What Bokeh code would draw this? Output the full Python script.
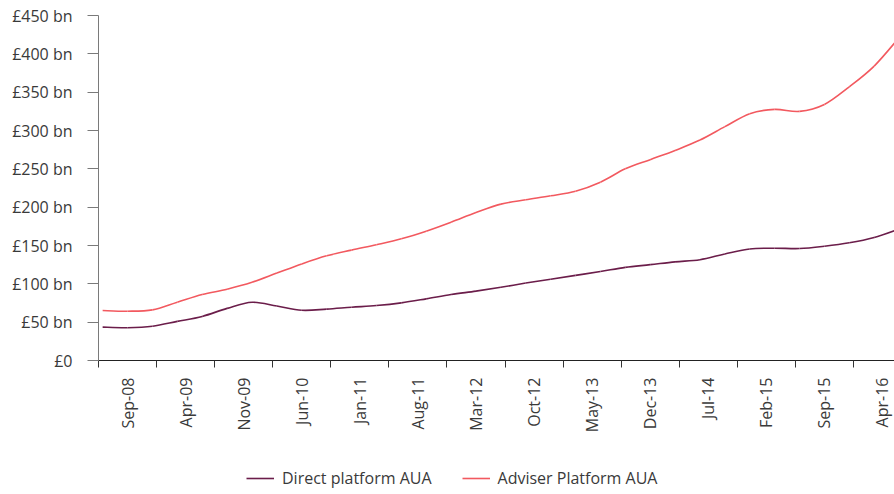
import math
import pandas as pd
from bokeh.plotting import figure
from bokeh.layouts import column
from bokeh.models import FixedTicker, Range1d, Legend, LegendItem, ColumnDataSource
from bokeh.embed import file_html
from bokeh.resources import INLINE

# ---- data (GBP bn), quarterly readings ----
quarters = ["Sep-08", "Dec-08", "Mar-09", "Jun-09", "Sep-09", "Dec-09", "Mar-10", "Jun-10",
            "Sep-10", "Dec-10", "Mar-11", "Jun-11", "Sep-11", "Dec-11", "Mar-12", "Jun-12",
            "Sep-12", "Dec-12", "Mar-13", "Jun-13", "Sep-13", "Dec-13", "Mar-14", "Jun-14",
            "Sep-14", "Dec-14", "Mar-15", "Jun-15", "Sep-15", "Dec-15", "Mar-16", "Jun-16",
            "Sep-16"]
direct_aua = [43.5, 42.8, 44.7, 51.0, 57.5, 68.0, 76.0, 71.0, 65.5, 67.0, 69.5, 71.7, 75.2,
              80.4, 86.0, 90.5, 95.5, 101.0, 106.0, 111.0, 116.0, 121.5, 125.0, 128.7, 131.5,
              139.0, 145.5, 146.5, 146.0, 149.0, 153.5, 160.5, 171.5]
adviser_aua = [65.2, 64.3, 66.0, 76.0, 86.0, 93.0, 102.0, 114.0, 126.0, 136.5, 144.0, 151.0,
               158.7, 168.7, 180.4, 193.0, 204.0, 209.6, 214.8, 220.8, 232.6, 250.0, 262.0,
               274.0, 287.5, 305.0, 322.0, 327.5, 325.0, 334.0, 357.0, 384.0, 421.0]
series_names = ["Direct platform AUA", "Adviser Platform AUA"]
x_tick_labels = ["Sep-08", "Apr-09", "Nov-09", "Jun-10", "Jan-11", "Aug-11", "Mar-12",
                 "Oct-12", "May-13", "Dec-13", "Jul-14", "Feb-15", "Sep-15", "Apr-16"]
y_ticks = [0, 50, 100, 150, 200, 250, 300, 350, 400, 450]
y_tick_labels = ["£0", "£50 bn", "£100 bn", "£150 bn", "£200 bn", "£250 bn", "£300 bn",
                 "£350 bn", "£400 bn", "£450 bn"]

# month index from first category
dates = pd.to_datetime(quarters, format="%b-%y")
start = dates[0]
months = [(d.year - start.year) * 12 + (d.month - start.month) for d in dates]
lab_dates = pd.to_datetime(x_tick_labels, format="%b-%y")
lab_months = [(d.year - start.year) * 12 + (d.month - start.month) for d in lab_dates]
label_pos = [m + 3 for m in lab_months]           # centred over 7-month group
boundary_pos = [m - 0.5 for m in lab_months]      # group boundaries


def smooth_segments(xs, ys):
    """Bezier segments through the data points (smoothed-line rendering)."""
    n = len(xs)
    d = dict(x0=[], y0=[], x1=[], y1=[], cx0=[], cy0=[], cx1=[], cy1=[])
    for i in range(n - 1):
        p0 = (xs[max(i - 1, 0)], ys[max(i - 1, 0)])
        p1 = (xs[i], ys[i])
        p2 = (xs[i + 1], ys[i + 1])
        p3 = (xs[min(i + 2, n - 1)], ys[min(i + 2, n - 1)])
        d["x0"].append(p1[0]); d["y0"].append(p1[1])
        d["x1"].append(p2[0]); d["y1"].append(p2[1])
        d["cx0"].append(p1[0] + (p2[0] - p0[0]) / 6.0)
        d["cy0"].append(p1[1] + (p2[1] - p0[1]) / 6.0)
        d["cx1"].append(p2[0] - (p3[0] - p1[0]) / 6.0)
        d["cy1"].append(p2[1] - (p3[1] - p1[1]) / 6.0)
    return ColumnDataSource(d)


FONT = "Open Sans"
TXT = "#3a3a3a"
C_DIRECT = "#6B1D4A"
C_ADVISER = "#F2595F"

p = figure(frame_width=796, frame_height=345, output_backend="svg", toolbar_location=None,
           x_range=Range1d(-0.5, 95.45), y_range=Range1d(0, 450),
           min_border_left=98, min_border_right=0, min_border_top=15, min_border_bottom=95)
p.outline_line_color = None
p.grid.grid_line_color = None
p.background_fill_color = "white"

p.bezier(x0="x0", y0="y0", x1="x1", y1="y1", cx0="cx0", cy0="cy0", cx1="cx1", cy1="cy1",
         source=smooth_segments(months, direct_aua), line_color=C_DIRECT, line_width=1.6)
p.bezier(x0="x0", y0="y0", x1="x1", y1="y1", cx0="cx0", cy0="cy0", cx1="cx1", cy1="cy1",
         source=smooth_segments(months, adviser_aua), line_color=C_ADVISER, line_width=1.6)

# y axis
ya = p.yaxis[0]
ya.ticker = FixedTicker(ticks=y_ticks)
ya.major_label_overrides = {t: l for t, l in zip(y_ticks, y_tick_labels)}
ya.axis_line_color = "#7a7a7a"
ya.major_tick_line_color = "#7a7a7a"
ya.major_tick_out = 11
ya.major_tick_in = 0
ya.minor_tick_line_color = None
ya.major_label_standoff = 15
ya.major_label_text_font = FONT
ya.major_label_text_font_size = "16px"
ya.major_label_text_color = TXT

# x axis
xa = p.xaxis[0]
xa.ticker = FixedTicker(ticks=label_pos, minor_ticks=boundary_pos)
xa.major_label_overrides = {t: l for t, l in zip(label_pos, x_tick_labels)}
xa.major_label_orientation = math.pi / 2
xa.major_tick_line_color = None
xa.major_tick_out = 0
xa.major_tick_in = 0
xa.minor_tick_line_color = "#333333"
xa.minor_tick_out = 7
xa.minor_tick_in = 0
xa.axis_line_color = "#222222"
xa.major_label_standoff = 10
xa.major_label_text_font = FONT
xa.major_label_text_font_size = "16px"
xa.major_label_text_color = TXT

# legend strip below the chart (series drawn outside its visible range)
lg = figure(width=894, height=39, output_backend="svg", toolbar_location=None,
            x_range=Range1d(-2000, -1000), y_range=Range1d(-2000, -1000),
            min_border=0)
lg.axis.visible = False
lg.grid.grid_line_color = None
lg.outline_line_color = None
lr1 = lg.line(x=months, y=direct_aua, line_color=C_DIRECT, line_width=1.6)
lr2 = lg.line(x=months, y=adviser_aua, line_color=C_ADVISER, line_width=1.6)
legend = Legend(items=[LegendItem(label=series_names[0], renderers=[lr1]),
                       LegendItem(label=series_names[1], renderers=[lr2])],
                orientation="horizontal", location=(148, 5),
                border_line_color=None, background_fill_alpha=0,
                label_text_font=FONT, label_text_font_size="16px", label_text_color=TXT,
                glyph_width=28, glyph_height=14, label_standoff=8, spacing=30,
                padding=2, margin=0)
lg.add_layout(legend, "center")

layout = column(p, lg, spacing=0)
open("out.html", "w").write(file_html(layout, INLINE))
